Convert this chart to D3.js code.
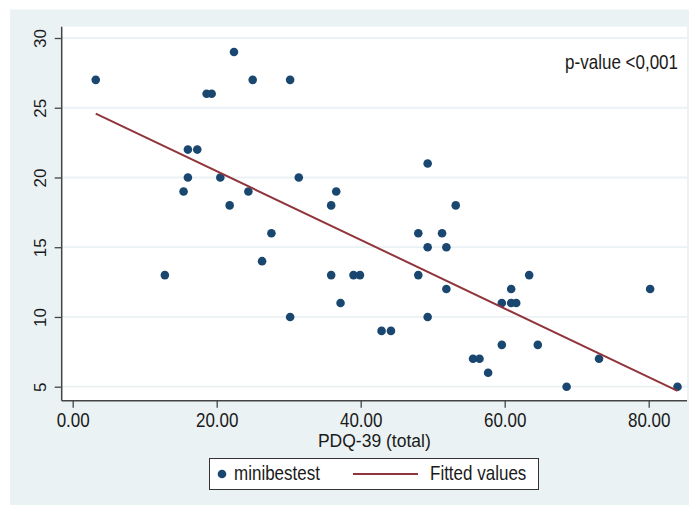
<!DOCTYPE html>
<html>
<head>
<meta charset="utf-8">
<script src="https://cdn.jsdelivr.net/npm/d3@7"></script>
<style>
	body { margin: 0; background: #fff; }
	text { font-family: "Liberation Sans", Arial, sans-serif; fill: #1a1a1a; }
</style>
</head>
<body>
<div id="chart"></div>
<script>
// PDQ-39 total (x) vs Mini-BESTest score (y), one entry per patient
const pdqTotal = [3.2, 12.8, 15.4, 16.0, 16.0, 17.3, 18.6, 19.3, 20.5, 21.8,
	22.4, 24.4, 25.0, 26.3, 27.6, 30.2, 30.2, 31.4, 35.9, 36.6,
	35.9, 37.2, 39.0, 39.9, 42.9, 44.2, 48.0, 48.0, 49.3, 49.3,
	49.3, 51.3, 51.9, 51.9, 53.2, 55.6, 56.5, 57.7, 59.6, 59.6,
	60.9, 60.9, 61.6, 63.4, 64.6, 68.6, 73.1, 80.2, 84.0];
const miniBestest = [27, 13, 19, 22, 20, 22, 26, 26, 20, 18,
	29, 19, 27, 14, 16, 27, 10, 20, 18, 19,
	13, 11, 13, 13, 9, 9, 16, 13, 21, 15,
	10, 16, 15, 12, 18, 7, 7, 6, 11, 8,
	12, 11, 11, 13, 8, 5, 7, 12, 5];

const yTickValues = [5, 10, 15, 20, 25, 30];
const xTickValues = [0, 20, 40, 60, 80];
const xTitle = "PDQ-39 (total)";
const pValueLabel = "p-value <0,001";
const legendLabels = ["minibestest", "Fitted values"];

const width = 694, height = 506;
const plot = { left: 61.7, right: 687, top: 26.7, bottom: 400.7 };
const dotColor = "#1a476f", lineColor = "#90353b", bgColor = "#eaf2f3";
const stretch = "scale(1,1.2)";

let svg = d3.select("#chart").append("svg")
	.attr("width", width)
	.attr("height", height);

// outer graph region + plot region
svg.append("rect")
	.attr("x", 10).attr("y", 9.5)
	.attr("width", 679).attr("height", 495.5)
	.attr("fill", bgColor);
svg.append("rect")
	.attr("x", plot.left).attr("y", plot.top)
	.attr("width", plot.right - plot.left).attr("height", plot.bottom - plot.top)
	.attr("fill", "#fff");

let x = d3.scaleLinear().domain([0, 80]).range([72.7, 648.7]);
let y = d3.scaleLinear().domain([5, 30]).range([386.7, 38]);

// horizontal grid
svg.append("g").selectAll("line")
	.data(yTickValues)
	.enter().append("line")
	.attr("x1", plot.left).attr("x2", plot.right)
	.attr("y1", d => y(d)).attr("y2", d => y(d))
	.attr("stroke", bgColor)
	.attr("stroke-width", 1.8);

// y axis
let yAxis = d3.axisLeft(y).tickValues(yTickValues).tickSize(7).tickSizeOuter(0);
let yg = svg.append("g")
	.attr("transform", "translate(" + plot.left + ",0)")
	.call(yAxis);
yg.select(".domain").remove();
yg.selectAll(".tick line").attr("stroke", "#444").attr("stroke-width", 1.3);
yg.selectAll(".tick text")
	.attr("x", null).attr("dy", null)
	.attr("text-anchor", "middle")
	.attr("transform", "translate(-16,0) rotate(-90)")
	.style("font-size", "17px")
	.attr("fill", "#1a1a1a");

// x axis
let xAxis = d3.axisBottom(x).tickValues(xTickValues).tickSize(7).tickSizeOuter(0)
	.tickFormat(d3.format(".2f"));
let xg = svg.append("g")
	.attr("transform", "translate(0," + plot.bottom + ")")
	.call(xAxis);
xg.select(".domain").remove();
xg.selectAll(".tick line").attr("stroke", "#444").attr("stroke-width", 1.3);
xg.selectAll(".tick text")
	.attr("y", null).attr("dy", null)
	.attr("transform", "translate(0,26) " + stretch)
	.style("font-size", "17px")
	.attr("fill", "#1a1a1a");

// axis lines
svg.append("line")
	.attr("x1", plot.left).attr("x2", plot.left)
	.attr("y1", plot.top).attr("y2", plot.bottom)
	.attr("stroke", "#444").attr("stroke-width", 1.5);
svg.append("line")
	.attr("x1", plot.left).attr("x2", plot.right)
	.attr("y1", plot.bottom).attr("y2", plot.bottom)
	.attr("stroke", "#444").attr("stroke-width", 1.5);

// axis title
svg.append("text")
	.attr("x", (plot.left + plot.right) / 2)
	.attr("y", 446.5)
	.attr("text-anchor", "middle")
	.style("font-size", "17.5px")
	.text(xTitle);

// scatter
let points = pdqTotal.map((v, i) => ({ x: v, y: miniBestest[i] }));
svg.append("g").selectAll("circle")
	.data(points)
	.enter().append("circle")
	.attr("cx", d => x(d.x))
	.attr("cy", d => y(d.y))
	.attr("r", 4.3)
	.attr("fill", dotColor);

// least-squares fit
let mx = d3.mean(pdqTotal), my = d3.mean(miniBestest);
let slope = d3.sum(points, d => (d.x - mx) * (d.y - my)) / d3.sum(points, d => (d.x - mx) ** 2);
let fitted = d3.extent(pdqTotal).map(v => ({ x: v, y: my + slope * (v - mx) }));

svg.append("path")
	.datum(fitted)
	.attr("d", d3.line().x(d => x(d.x)).y(d => y(d.y)))
	.attr("fill", "none")
	.attr("stroke", lineColor)
	.attr("stroke-width", 2);

// p-value note
svg.append("g")
	.attr("transform", "translate(678,69.3) " + stretch)
	.append("text")
	.attr("text-anchor", "end")
	.style("font-size", "17px")
	.text(pValueLabel);

// legend
let legend = svg.append("g");
legend.append("rect")
	.attr("x", 209.5).attr("y", 458.5)
	.attr("width", 329).attr("height", 31)
	.attr("fill", "#fff")
	.attr("stroke", "#333");
legend.append("circle")
	.attr("cx", 222).attr("cy", 474).attr("r", 4.3)
	.attr("fill", dotColor);
legend.append("line")
	.attr("x1", 353).attr("x2", 418)
	.attr("y1", 474).attr("y2", 474)
	.attr("stroke", lineColor).attr("stroke-width", 2);
[[234, legendLabels[0]], [430, legendLabels[1]]].forEach(l => {
	legend.append("g")
		.attr("transform", "translate(" + l[0] + ",480) " + stretch)
		.append("text")
		.style("font-size", "17px")
		.text(l[1]);
});
</script>
</body>
</html>
